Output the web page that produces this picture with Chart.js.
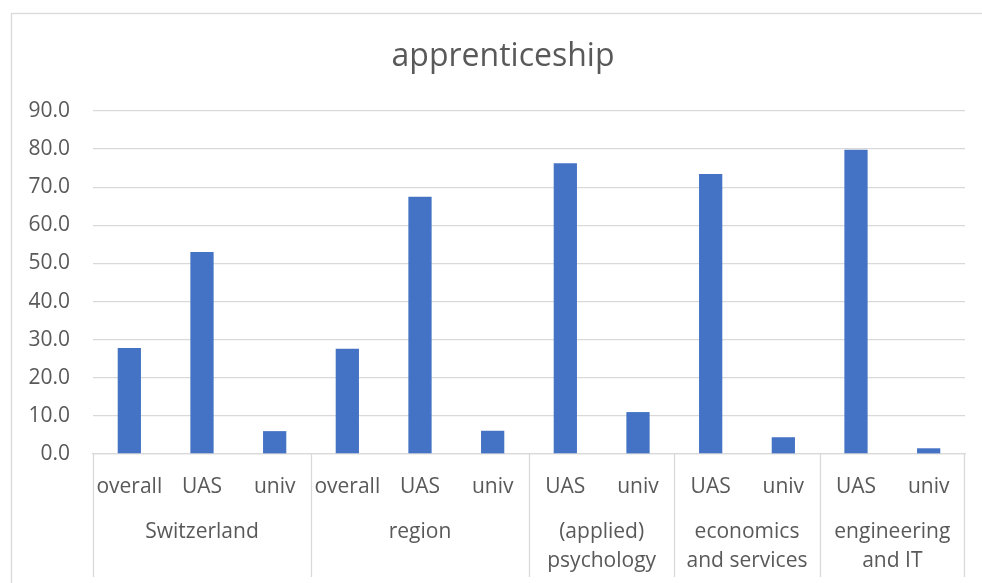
<!DOCTYPE html>
<html>
<head>
<meta charset="utf-8">
<script src="https://cdn.jsdelivr.net/npm/chart.js@4"></script>
<style>
    html, body { margin: 0; padding: 0; background: #ffffff; }
    #contenedor { width: 982px; height: 583px; }
</style>
</head>
<body>
<div id="contenedor"><canvas id="grafico" width="982" height="583"></canvas></div>
<script>
// Datos del gráfico.
const TITULO = 'apprenticeship';
const CATEGORIAS = ['overall', 'UAS', 'univ', 'overall', 'UAS', 'univ', 'UAS', 'univ', 'UAS', 'univ', 'UAS', 'univ'];
const VALORES = [27.8, 53.0, 6.0, 27.6, 67.5, 6.1, 76.3, 11.0, 73.5, 4.4, 79.8, 1.5];
const GRUPOS = [['Switzerland'], ['region'], ['(applied)', 'psychology'], ['economics', 'and services'], ['engineering', 'and IT']];
const TAMANOS_GRUPO = [3, 3, 2, 2, 2];
const TICKS_Y = [0, 10, 20, 30, 40, 50, 60, 70, 80, 90];

const GRIS_TEXTO = '#595959';
const GRIS_LINEA = '#d9d9d9';
const FUENTE = '"Open Sans", sans-serif';

/*
*   Plugin para dibujar el marco exterior, el título y las etiquetas de grupo del eje X.
*/
const gruposEjeX = {
    id: 'gruposEjeX',
    beforeDraw: (chart) => {
        const ctx = chart.ctx;
        ctx.save();
        ctx.fillStyle = '#ffffff';
        ctx.fillRect(0, 0, chart.width, chart.height);
        // Marco del área del gráfico.
        ctx.strokeStyle = GRIS_LINEA;
        ctx.lineWidth = 1.3;
        ctx.strokeRect(11.5, 13.5, chart.width + 20, chart.height + 20);
        // Título centrado sobre el marco.
        ctx.fillStyle = GRIS_TEXTO;
        ctx.font = '32px ' + FUENTE;
        ctx.textAlign = 'center';
        ctx.textBaseline = 'middle';
        ctx.fillText(TITULO, 503, 57);
        ctx.restore();
    },
    afterDraw: (chart) => {
        const ctx = chart.ctx;
        const x = chart.scales.x;
        const mitad = (x.getPixelForValue(1) - x.getPixelForValue(0)) / 2;
        const arriba = chart.chartArea.bottom;
        ctx.save();
        ctx.strokeStyle = GRIS_LINEA;
        ctx.lineWidth = 1.3;
        ctx.fillStyle = GRIS_TEXTO;
        ctx.font = '21px ' + FUENTE;
        ctx.textAlign = 'center';
        ctx.textBaseline = 'middle';
        let inicio = 0;
        GRUPOS.forEach((lineas, i) => {
            const fin = inicio + TAMANOS_GRUPO[i] - 1;
            const izq = x.getPixelForValue(inicio) - mitad;
            const der = x.getPixelForValue(fin) + mitad;
            // Separadores verticales.
            ctx.beginPath();
            ctx.moveTo(Math.round(izq) + 0.5, arriba);
            ctx.lineTo(Math.round(izq) + 0.5, 577);
            if (i === GRUPOS.length - 1) {
                ctx.moveTo(Math.round(der) - 0.5, arriba);
                ctx.lineTo(Math.round(der) - 0.5, 577);
            }
            ctx.stroke();
            // Texto del grupo.
            lineas.forEach((texto, j) => {
                ctx.fillText(texto, (izq + der) / 2, 532 + j * 29);
            });
            inicio = fin + 1;
        });
        ctx.restore();
    }
};

new Chart(document.getElementById('grafico'), {
    type: 'bar',
    data: {
        labels: CATEGORIAS,
        datasets: [{
            data: VALORES,
            backgroundColor: '#4472C4',
            borderWidth: 0,
            barPercentage: 0.32,
            categoryPercentage: 1.0
        }]
    },
    options: {
        responsive: false,
        animation: false,
        layout: {
            padding: { left: 0, right: 17, top: 111, bottom: 0 }
        },
        plugins: {
            legend: { display: false },
            tooltip: { enabled: false },
            title: { display: false }
        },
        scales: {
            x: {
                grid: { display: false, drawTicks: false },
                border: { color: GRIS_LINEA, width: 1.3 },
                ticks: {
                    color: GRIS_TEXTO,
                    font: { family: FUENTE, size: 21 },
                    padding: 20,
                    maxRotation: 0,
                    autoSkip: false
                },
                afterFit: (escala) => { escala.height = 129; }
            },
            y: {
                min: 0,
                max: 90,
                afterBuildTicks: (escala) => {
                    escala.ticks = TICKS_Y.map(v => ({ value: v }));
                },
                grid: { color: GRIS_LINEA, lineWidth: 1.3, drawTicks: false },
                border: { display: false },
                ticks: {
                    color: GRIS_TEXTO,
                    font: { family: FUENTE, size: 21 },
                    padding: 23,
                    callback: (v) => Number(v).toFixed(1)
                },
                afterFit: (escala) => { escala.width = 93; }
            }
        }
    },
    plugins: [gruposEjeX]
});
</script>
</body>
</html>
